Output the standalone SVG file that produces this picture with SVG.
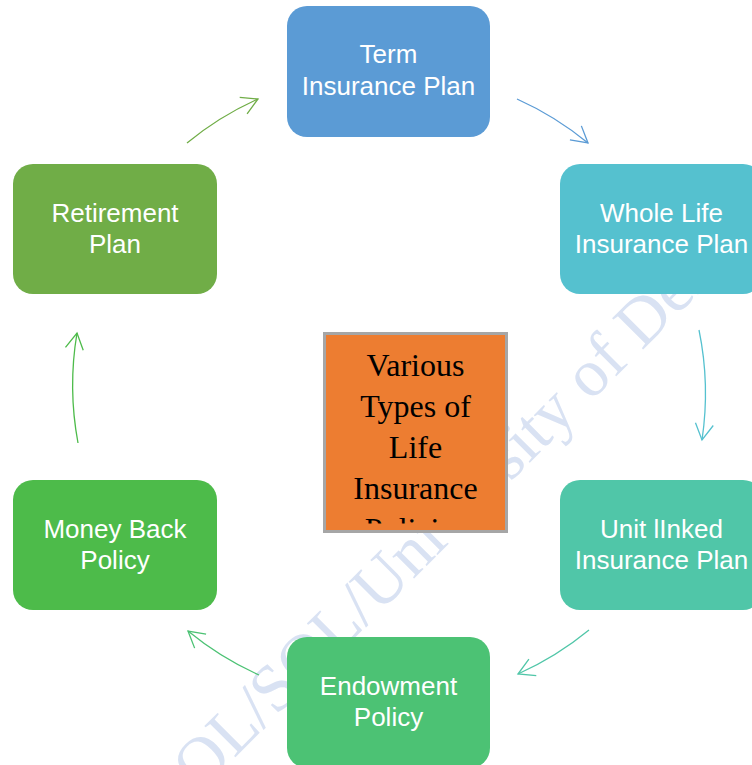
<svg xmlns="http://www.w3.org/2000/svg" width="752" height="765" viewBox="0 0 752 765">
<style>
.node text{font-family:"Liberation Sans",Arial,sans-serif;font-size:26px;fill:#ffffff;text-anchor:middle}
.conn path{fill:none;stroke-width:1.3}
.center text{font-family:"Liberation Serif","Times New Roman",serif;font-size:32px;fill:#000000;text-anchor:middle}
.wm{font-family:"Liberation Serif","Times New Roman",serif;font-size:67px;fill:#d9e2f3}
</style>
<defs>
<marker id="m1" markerUnits="userSpaceOnUse" orient="auto" overflow="visible" markerWidth="1" markerHeight="1"><path d="M-16,-9 L0,0 L-16,9" fill="none" stroke="#70ad47" stroke-width="1.3"/></marker>
<marker id="m2" markerUnits="userSpaceOnUse" orient="auto" overflow="visible" markerWidth="1" markerHeight="1"><path d="M-16,-9 L0,0 L-16,9" fill="none" stroke="#5b9bd5" stroke-width="1.3"/></marker>
<marker id="m3" markerUnits="userSpaceOnUse" orient="auto" overflow="visible" markerWidth="1" markerHeight="1"><path d="M-16,-9 L0,0 L-16,9" fill="none" stroke="#55c1cf" stroke-width="1.3"/></marker>
<marker id="m4" markerUnits="userSpaceOnUse" orient="auto" overflow="visible" markerWidth="1" markerHeight="1"><path d="M-16,-9 L0,0 L-16,9" fill="none" stroke="#50c6a8" stroke-width="1.3"/></marker>
<marker id="m5" markerUnits="userSpaceOnUse" orient="auto" overflow="visible" markerWidth="1" markerHeight="1"><path d="M-16,-9 L0,0 L-16,9" fill="none" stroke="#4cc274" stroke-width="1.3"/></marker>
<marker id="m6" markerUnits="userSpaceOnUse" orient="auto" overflow="visible" markerWidth="1" markerHeight="1"><path d="M-16,-9 L0,0 L-16,9" fill="none" stroke="#4dbb4a" stroke-width="1.3"/></marker>
<clipPath id="cclip"><rect x="326" y="335" width="179" height="188.5"/></clipPath>
</defs>
<rect width="752" height="765" fill="#ffffff"/>
<text class="wm" transform="translate(26,966.5) rotate(-45)">DDCE/COL/SOL/University of Delhi</text>
<g id="connectors" class="conn">
<path d="M187,143 A315,315 0 0 1 258,99" stroke="#70ad47" marker-end="url(#m1)"/>
<path d="M517,99 A315,315 0 0 1 588,143" stroke="#5b9bd5" marker-end="url(#m2)"/>
<path d="M699,330 A315,315 0 0 1 702,440" stroke="#55c1cf" marker-end="url(#m3)"/>
<path d="M589,630 A315,315 0 0 1 518,674" stroke="#50c6a8" marker-end="url(#m4)"/>
<path d="M259,675 A315,315 0 0 1 188,631" stroke="#4cc274" marker-end="url(#m5)"/>
<path d="M78,443 A315,315 0 0 1 77,333" stroke="#4dbb4a" marker-end="url(#m6)"/>
</g>
<g id="term" class="node">
<rect x="287" y="6" width="203" height="131" rx="20" fill="#5b9bd5"/>
<text x="388.5" y="63">Term</text>
<text x="388.5" y="95">Insurance Plan</text>
</g>
<g id="wholelife" class="node">
<rect x="560" y="164" width="203" height="130" rx="20" fill="#55c1cf"/>
<text x="661.5" y="222">Whole Life</text>
<text x="661.5" y="253">Insurance Plan</text>
</g>
<g id="unitlinked" class="node">
<rect x="560" y="480" width="203" height="130" rx="20" fill="#50c6a8"/>
<text x="661.5" y="538">Unit lInked</text>
<text x="661.5" y="569">Insurance Plan</text>
</g>
<g id="endowment" class="node">
<rect x="287" y="637" width="203" height="131" rx="20" fill="#4cc274"/>
<text x="388.5" y="695">Endowment</text>
<text x="388.5" y="726">Policy</text>
</g>
<g id="moneyback" class="node">
<rect x="13" y="480" width="204" height="130" rx="20" fill="#4dbb4a"/>
<text x="115" y="538">Money Back</text>
<text x="115" y="569">Policy</text>
</g>
<g id="retirement" class="node">
<rect x="13" y="164" width="204" height="130" rx="20" fill="#70ad47"/>
<text x="115" y="222">Retirement</text>
<text x="115" y="253">Plan</text>
</g>
<g id="center" class="center">
<rect x="324.5" y="333.5" width="182" height="198" fill="#ed7d31" stroke="#a6a6a6" stroke-width="3"/>
<g clip-path="url(#cclip)">
<text x="415.5" y="376">Various</text>
<text x="415.5" y="417">Types of</text>
<text x="415.5" y="458">Life</text>
<text x="415.5" y="499">Insurance</text>
<text x="415.5" y="540">Policies</text>
</g>
</g>
</svg>
